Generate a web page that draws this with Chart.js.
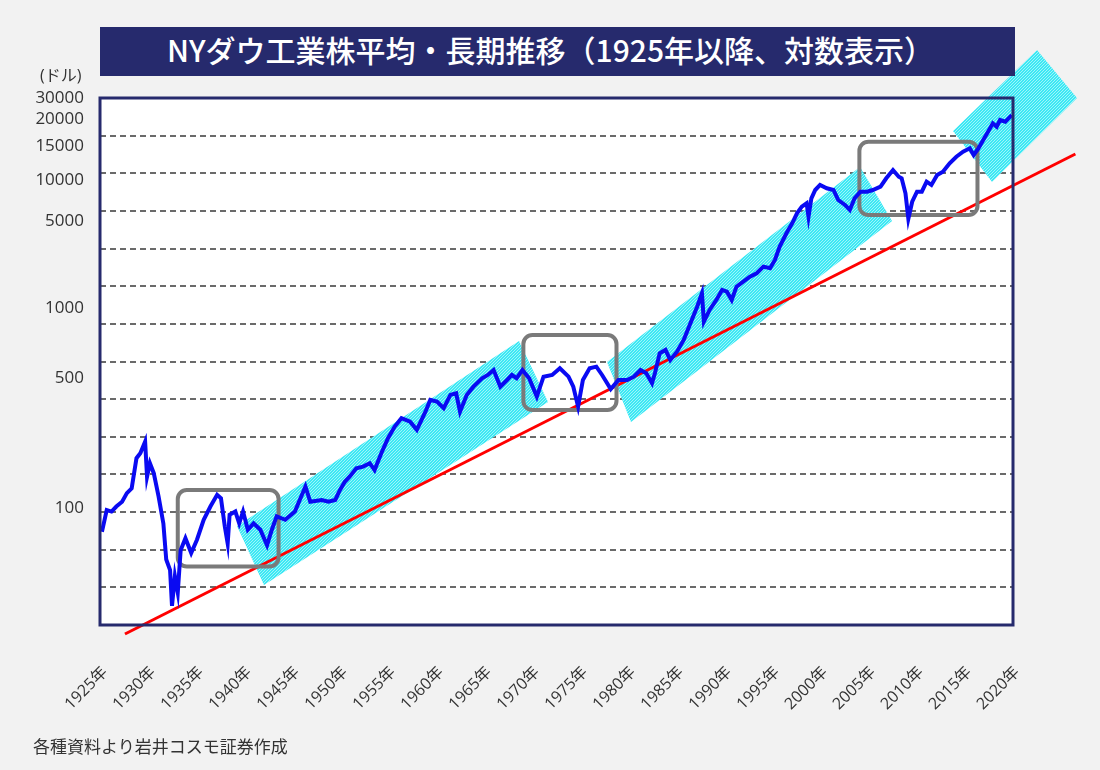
<!DOCTYPE html>
<html lang="ja">
<head>
<meta charset="utf-8">
<title>NYダウ工業株平均・長期推移</title>
<script src="https://cdn.jsdelivr.net/npm/chart.js@4.4.1/dist/chart.umd.min.js"></script>
<style>
  html, body { margin: 0; padding: 0; background: #f2f2f2; }
  #wrap { position: relative; width: 1100px; height: 770px; overflow: hidden; }
  #chart { position: absolute; left: 0; top: 0; }
  .banner {
    position: absolute; left: 100px; top: 27px; width: 915px; height: 49px;
    background: #262a6d; color: #fff; text-align: center; line-height: 49px;
    font: 500 30px 'Noto Sans CJK JP', sans-serif; z-index: 2; text-indent: -14px;
  }
  .unit { position: absolute; left: 40px; top: 62px; font: 16px 'Open Sans', 'Noto Sans CJK JP', sans-serif; color: #333; }
  .source { position: absolute; left: 33px; top: 733px; font: 17px 'Noto Sans CJK JP', sans-serif; color: #333; }
</style>
</head>
<body>
<div id="wrap">
  <canvas id="chart" width="1100" height="770"></canvas>
  <div class="banner">NYダウ工業株平均・長期推移（1925年以降、対数表示）</div>
  <div class="unit">(ドル)</div>
  <div class="source">各種資料より岩井コスモ証券作成</div>
</div>
<script>
// ---- data ----
const dowYears = [
  1925.2, 1925.7, 1926.2, 1926.7, 1927.3, 1927.8, 1928.3, 1928.8, 1929.2, 1929.7,
  1929.9, 1930.2, 1930.6, 1931.1, 1931.6, 1931.9, 1932.3, 1932.5, 1932.8, 1933.1,
  1933.4, 1933.9, 1934.5, 1935.1, 1935.8, 1936.5, 1937.2, 1937.6, 1938.0, 1938.3,
  1938.5, 1939.1, 1939.5, 1939.9, 1940.4, 1941.0, 1941.7, 1942.4, 1942.9, 1943.4,
  1944.3, 1945.3, 1946.4, 1946.9, 1948.1, 1948.8, 1949.5, 1950.0, 1950.5, 1951.0,
  1951.7, 1952.4, 1953.1, 1953.6, 1954.3, 1955.0, 1955.7, 1956.4, 1957.3, 1958.0,
  1958.9, 1959.4, 1960.1, 1960.8, 1961.5, 1962.1, 1962.5, 1963.2, 1963.9, 1964.8,
  1965.4, 1966.0, 1966.7, 1967.4, 1967.9, 1968.4, 1969.0, 1969.7, 1970.5, 1971.2,
  1972.1, 1972.9, 1973.8, 1974.3, 1974.8, 1975.3, 1976.0, 1976.7, 1977.3, 1978.2,
  1979.0, 1979.9, 1980.6, 1981.3, 1981.9, 1982.5, 1982.8, 1983.3, 1983.9, 1984.4,
  1985.1, 1985.8, 1986.5, 1987.2, 1987.7, 1987.9, 1988.5, 1989.2, 1989.8, 1990.3,
  1990.8, 1991.3, 1992.0, 1992.7, 1993.4, 1994.1, 1994.8, 1995.3, 1995.8, 1996.5,
  1997.1, 1997.6, 1998.1, 1998.6, 1998.8, 1999.1, 1999.5, 2000.0, 2000.7, 2001.4,
  2001.9, 2002.6, 2003.1, 2003.6, 2004.2, 2004.9, 2005.5, 2006.3, 2006.9, 2007.6,
  2008.2, 2008.5, 2008.9, 2009.2, 2009.6, 2010.1, 2010.6, 2011.1, 2011.6, 2012.2,
  2012.8, 2013.5, 2014.2, 2014.9, 2015.6, 2016.0, 2016.5, 2017.0, 2017.5, 2018.0,
  2018.4, 2018.75, 2019.3, 2019.97
];
const dowValues = [
  110, 147, 144, 154, 164, 184, 196, 293, 313, 365,
  229, 274, 240, 176, 123, 76, 66, 41, 61, 49,
  86, 101, 83, 99, 129, 154, 180, 172, 118, 94,
  138, 144, 123, 144, 113, 123, 113, 92, 113, 135,
  129, 144, 201, 164, 168, 164, 168, 192, 214, 229,
  256, 262, 274, 250, 313, 382, 446, 499, 476, 427,
  544, 636, 622, 570, 680, 695, 544, 680, 759, 849,
  887, 948, 759, 830, 887, 849, 948, 849, 665, 867,
  887, 970, 867, 759, 582, 830, 970, 991, 887, 735,
  830, 830, 867, 948, 908, 795, 908, 1184, 1238, 1083,
  1210, 1414, 1765, 2202, 2632, 1804, 2108, 2407, 2750, 2689,
  2407, 2874, 3071, 3283, 3435, 3751, 3670, 4101, 4895, 5850,
  6684, 7632, 8336, 8720, 7294, 9319, 10407, 11126, 10645, 10407,
  9111, 8525, 7976, 9319, 10174, 10174, 10407, 10875, 12164, 13581,
  12425, 12164, 9960, 7100, 8906, 10174, 10174, 11625, 11126, 12710,
  13280, 14846, 16210, 17329, 18129, 16585, 18129, 20246, 22614, 25287,
  24168, 26418, 25832, 28235
];

// long-term trend line (red)
const trendYears = [1927.6, 2026.6];
const trendValues = [28.2, 16800];

// channel bands (year, value) corners
const channelA = [[1939.27, 118.9], [1968.65, 1395], [1971.67, 619], [1942.08, 54.2]];
const channelB = [[1977.81, 1055], [2004.17, 14136], [2007.5, 6891], [1980.31, 474.6]];
const channelC = [[2013.85, 22822], [2022.6, 67090], [2026.77, 35400], [2017.92, 11580]];

// sideways-range boxes: [from year, to year, low, high]
const rangeBoxes = [
  [1933.1, 1943.6, 69.2, 192],
  [1969.1, 1978.8, 556.7, 1511],
  [2004.1, 2016.4, 7462, 19797]
];

const xTickYears = [1925, 1930, 1935, 1940, 1945, 1950, 1955, 1960, 1965, 1970,
                    1975, 1980, 1985, 1990, 1995, 2000, 2005, 2010, 2015, 2020];
const yTickLabels = ['30000', '20000', '15000', '10000', '5000', '1000', '500', '100'];
const yTickSlots = [14, 13.43, 12.73, 11.82, 10.74, 8.41, 6.55, 3.1];

// ---- drawing helpers ----
function makeHatch() {
  const c = document.createElement('canvas');
  c.width = 3; c.height = 3;
  const g = c.getContext('2d');
  g.fillStyle = '#3ce8f4';
  g.fillRect(0, 0, 3, 3);
  g.fillStyle = '#9ff5fa';
  g.fillRect(0, 0, 1, 1);
  g.fillRect(2, 1, 1, 1);
  g.fillRect(1, 2, 1, 1);
  return g.createPattern(c, 'repeat');
}
const hatch = makeHatch();

const plotBg = {
  id: 'plotBg',
  beforeDraw(chart) {
    const { ctx, chartArea: a } = chart;
    ctx.save();
    ctx.fillStyle = '#ffffff';
    ctx.fillRect(a.left, a.top, a.right - a.left, a.bottom - a.top);
    ctx.restore();
  }
};

const channels = {
  id: 'channels',
  beforeDatasetsDraw(chart) {
    const { ctx } = chart;
    const xs = chart.scales.x, ys = chart.scales.y;
    ctx.save();
    ctx.fillStyle = hatch;
    [channelA, channelB, channelC].forEach(ch => {
      ctx.beginPath();
      ch.forEach((p, i) => {
        const px = xs.getPixelForValue(p[0]);
        const py = ys.getPixelForValue(p[1]);
        if (i === 0) ctx.moveTo(px, py); else ctx.lineTo(px, py);
      });
      ctx.closePath();
      ctx.fill();
    });
    ctx.restore();
  }
};

const boxes = {
  id: 'boxes',
  beforeDatasetDraw(chart, args) {
    if (args.index !== 0) return;
    const { ctx } = chart;
    const xs = chart.scales.x, ys = chart.scales.y;
    ctx.save();
    ctx.strokeStyle = '#7a7a7a';
    ctx.lineWidth = 4;
    rangeBoxes.forEach(b => {
      const l = xs.getPixelForValue(b[0]);
      const r = xs.getPixelForValue(b[1]);
      const t = ys.getPixelForValue(b[3]);
      const btm = ys.getPixelForValue(b[2]);
      ctx.beginPath();
      ctx.roundRect(l, t, r - l, btm - t, 9);
      ctx.stroke();
    });
    ctx.restore();
  }
};

const frame = {
  id: 'frame',
  afterDatasetsDraw(chart) {
    const { ctx, chartArea: a } = chart;
    ctx.save();
    ctx.strokeStyle = '#262a6d';
    ctx.lineWidth = 3;
    ctx.strokeRect(a.left, a.top, a.right - a.left, a.bottom - a.top);
    ctx.restore();
  }
};

const tickFont = { family: "'Open Sans', 'Noto Sans CJK JP', sans-serif", size: 16 };

new Chart(document.getElementById('chart'), {
  type: 'line',
  data: {
    datasets: [
      {
        label: 'NYダウ',
        data: dowYears.map((y, i) => ({ x: y, y: dowValues[i] })),
        borderColor: '#0a0af2',
        borderWidth: 4,
        pointRadius: 0,
        tension: 0,
        order: 0
      },
      {
        label: 'トレンド',
        data: trendYears.map((y, i) => ({ x: y, y: trendValues[i] })),
        borderColor: '#ff0000',
        borderWidth: 3,
        pointRadius: 0,
        clip: false,
        order: 1
      }
    ]
  },
  options: {
    responsive: false,
    animation: false,
    devicePixelRatio: 1,
    layout: { padding: { left: 0, right: 87, top: 98, bottom: 0 } },
    plugins: {
      legend: { display: false },
      tooltip: { enabled: false }
    },
    scales: {
      x: {
        type: 'linear',
        min: 1925,
        max: 2020.1,
        afterBuildTicks: s => { s.ticks = xTickYears.map(v => ({ value: v })); },
        afterFit: s => { s.height = 145; },
        grid: { display: false },
        border: { display: false },
        ticks: {
          autoSkip: false,
          minRotation: 45,
          maxRotation: 45,
          padding: 30,
          labelOffset: 5,
          color: '#333',
          font: tickFont,
          callback: v => v + '年'
        }
      },
      y: {
        type: 'logarithmic',
        min: 31.8,
        max: 35420,
        display: false
      },
      yLab: {
        type: 'linear',
        position: 'left',
        min: 0,
        max: 14,
        afterBuildTicks: s => { s.ticks = yTickSlots.map(v => ({ value: v })); },
        afterFit: s => { s.width = 100; },
        grid: { display: false, drawTicks: false },
        border: { display: false },
        ticks: {
          autoSkip: false,
          padding: 16,
          color: '#333',
          font: { family: "'Open Sans', sans-serif", size: 17 },
          callback: (v, i) => yTickLabels[i]
        }
      },
      yGrid: {
        type: 'linear',
        position: 'right',
        min: 0,
        max: 14,
        afterFit: s => { s.width = 0; },
        ticks: { display: false, stepSize: 1 },
        grid: { color: '#6a6a6a', lineWidth: 2, drawTicks: false },
        border: { display: false, dash: [6, 4] }
      }
    }
  },
  plugins: [plotBg, channels, boxes, frame]
});
</script>
</body>
</html>
